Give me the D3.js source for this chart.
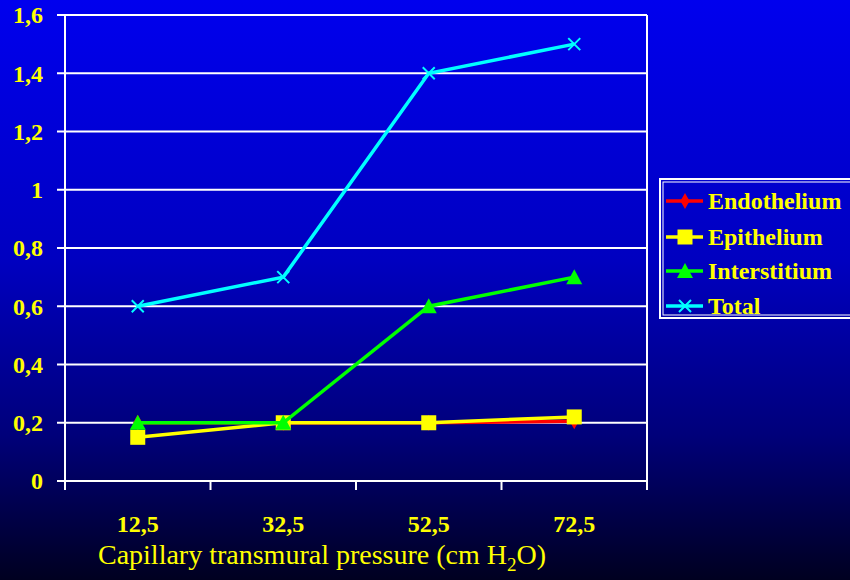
<!DOCTYPE html>
<html>
<head>
<meta charset="utf-8">
<script src="https://cdn.jsdelivr.net/npm/d3@7"></script>
<style>
  html, body { margin: 0; padding: 0; background: #000; }
  svg { display: block; }
</style>
</head>
<body>
<div id="chart"></div>
<script>
// chart data
const pressures = ["12,5", "32,5", "52,5", "72,5"];
const endothelium = [0.2, 0.2, 0.2, 0.205];
const epithelium = [0.15, 0.2, 0.2, 0.22];
const interstitium = [0.2, 0.2, 0.6, 0.7];
const total = [0.6, 0.7, 1.4, 1.5];
const yTicks = [0, 0.2, 0.4, 0.6, 0.8, 1, 1.2, 1.4, 1.6];
const seriesNames = ["Endothelium", "Epithelium", "Interstitium", "Total"];

const svgWidth = 850, svgHeight = 580;
const margin = { top: 15, right: 203, bottom: 99, left: 65 };
const chartWidth = svgWidth - margin.left - margin.right;
const chartHeight = svgHeight - margin.top - margin.bottom;
const serif = "'Liberation Serif', 'Times New Roman', serif";

const series = [
  { name: seriesNames[0], values: endothelium, color: "#ff0000", marker: "diamond" },
  { name: seriesNames[1], values: epithelium, color: "#ffff00", marker: "square" },
  { name: seriesNames[2], values: interstitium, color: "#00ff00", marker: "triangle" },
  { name: seriesNames[3], values: total, color: "#00ffff", marker: "cross" }
];

const svg = d3.select("#chart").append("svg")
  .attr("width", svgWidth)
  .attr("height", svgHeight);

// background gradient
const grad = svg.append("defs").append("linearGradient")
  .attr("id", "bg").attr("x1", 0).attr("y1", 0).attr("x2", 0).attr("y2", 1);
grad.append("stop").attr("offset", "0%").attr("stop-color", "#0000ee");
grad.append("stop").attr("offset", "45%").attr("stop-color", "#0000c0");
grad.append("stop").attr("offset", "75%").attr("stop-color", "#00007a");
grad.append("stop").attr("offset", "100%").attr("stop-color", "#000020");
svg.append("rect").attr("width", svgWidth).attr("height", svgHeight).attr("fill", "url(#bg)");

const g = svg.append("g").attr("transform", `translate(${margin.left},${margin.top})`);

const x = d3.scaleBand().domain(pressures).range([0, chartWidth]);
const y = d3.scaleLinear().domain([0, 1.6]).range([chartHeight, 0]);
const fmt = v => String(v).replace(".", ",");

// gridlines
g.selectAll(".grid").data(yTicks).enter().append("line")
  .attr("x1", -8).attr("x2", chartWidth)
  .attr("y1", d => y(d)).attr("y2", d => y(d))
  .attr("stroke", "#ffffff").attr("stroke-width", 2);

// right border
g.append("line").attr("x1", chartWidth).attr("x2", chartWidth)
  .attr("y1", 0).attr("y2", chartHeight + 8)
  .attr("stroke", "#ffffff").attr("stroke-width", 2);

// left axis line
g.append("line").attr("x1", 0).attr("x2", 0)
  .attr("y1", 0).attr("y2", chartHeight + 8)
  .attr("stroke", "#ffffff").attr("stroke-width", 2);

// x ticks at band boundaries
const bounds = pressures.map(p => x(p)).concat([chartWidth]);
g.selectAll(".xtick").data(bounds).enter().append("line")
  .attr("x1", d => d).attr("x2", d => d)
  .attr("y1", chartHeight).attr("y2", chartHeight + 9)
  .attr("stroke", "#ffffff").attr("stroke-width", 2);

// y tick labels
g.selectAll(".ylab").data(yTicks).enter().append("text")
  .attr("x", -22).attr("y", d => y(d))
  .attr("dy", "0.35em")
  .attr("text-anchor", "end")
  .attr("font-family", serif)
  .attr("font-weight", "bold").attr("font-size", 24)
  .attr("fill", "#ffff00")
  .text(fmt);

// x tick labels
g.selectAll(".xlab").data(pressures).enter().append("text")
  .attr("x", d => x(d) + x.bandwidth() / 2).attr("y", chartHeight + 51)
  .attr("text-anchor", "middle")
  .attr("font-family", serif)
  .attr("font-weight", "bold").attr("font-size", 24)
  .attr("fill", "#ffff00")
  .text(d => d);

// axis title
const title = svg.append("text")
  .attr("x", 322).attr("y", 564)
  .attr("text-anchor", "middle")
  .attr("font-family", serif)
  .attr("font-size", 28)
  .attr("fill", "#ffff00");
title.append("tspan").text("Capillary transmural pressure (cm H");
title.append("tspan").attr("font-size", 19).attr("dy", 7).text("2");
title.append("tspan").attr("dy", -7).text("O)");

function drawMarker(sel, type, color, size) {
  if (type === "diamond") {
    sel.append("path").attr("d", d3.symbol(d3.symbolDiamond, size * size * 0.5)())
      .attr("fill", color);
  } else if (type === "square") {
    sel.append("rect").attr("x", -size / 2).attr("y", -size / 2)
      .attr("width", size).attr("height", size).attr("fill", color);
  } else if (type === "triangle") {
    sel.append("path").attr("d", `M0,${-size / 2 - 1}L${size / 2 + 1},${size / 2}L${-size / 2 - 1},${size / 2}Z`)
      .attr("fill", color);
  } else {
    const s = size / 2;
    sel.append("path").attr("d", `M${-s},${-s}L${s},${s}M${-s},${s}L${s},${-s}`)
      .attr("stroke", color).attr("stroke-width", 2).attr("fill", "none");
  }
}

const line = d3.line()
  .x((d, i) => x(pressures[i]) + x.bandwidth() / 2)
  .y(d => y(d));

const markerSize = { diamond: 12, square: 15, triangle: 14, cross: 12 };

series.forEach(s => {
  g.append("path").datum(s.values)
    .attr("d", line)
    .attr("fill", "none")
    .attr("stroke", s.color)
    .attr("stroke-width", 3.5);
  s.values.forEach((v, i) => {
    const m = g.append("g")
      .attr("transform", `translate(${x(pressures[i]) + x.bandwidth() / 2},${y(v)})`);
    drawMarker(m, s.marker, s.color, markerSize[s.marker]);
  });
});

// legend
const legend = svg.append("g").attr("transform", "translate(659,178)");
legend.append("rect").attr("x", 1).attr("y", 1).attr("width", 196).attr("height", 139)
  .attr("fill", "none").attr("stroke", "#ffffff").attr("stroke-width", 2);
legend.append("rect").attr("x", 4).attr("y", 4).attr("width", 190).attr("height", 133)
  .attr("fill", "none").attr("stroke", "#ffffff").attr("stroke-width", 1);

const rowY = [23, 59, 93, 128];
series.forEach((s, i) => {
  const row = legend.append("g").attr("transform", `translate(0,${rowY[i]})`);
  row.append("line").attr("x1", 7).attr("x2", 44).attr("y1", 0).attr("y2", 0)
    .attr("stroke", s.color).attr("stroke-width", 3.5);
  const m = row.append("g").attr("transform", "translate(26,0)");
  drawMarker(m, s.marker, s.color, markerSize[s.marker]);
  row.append("text").attr("x", 49).attr("y", 0).attr("dy", "0.35em")
    .attr("font-family", serif)
    .attr("font-weight", "bold").attr("font-size", 24)
    .attr("fill", "#ffff00")
    .text(s.name);
});
</script>
</body>
</html>
